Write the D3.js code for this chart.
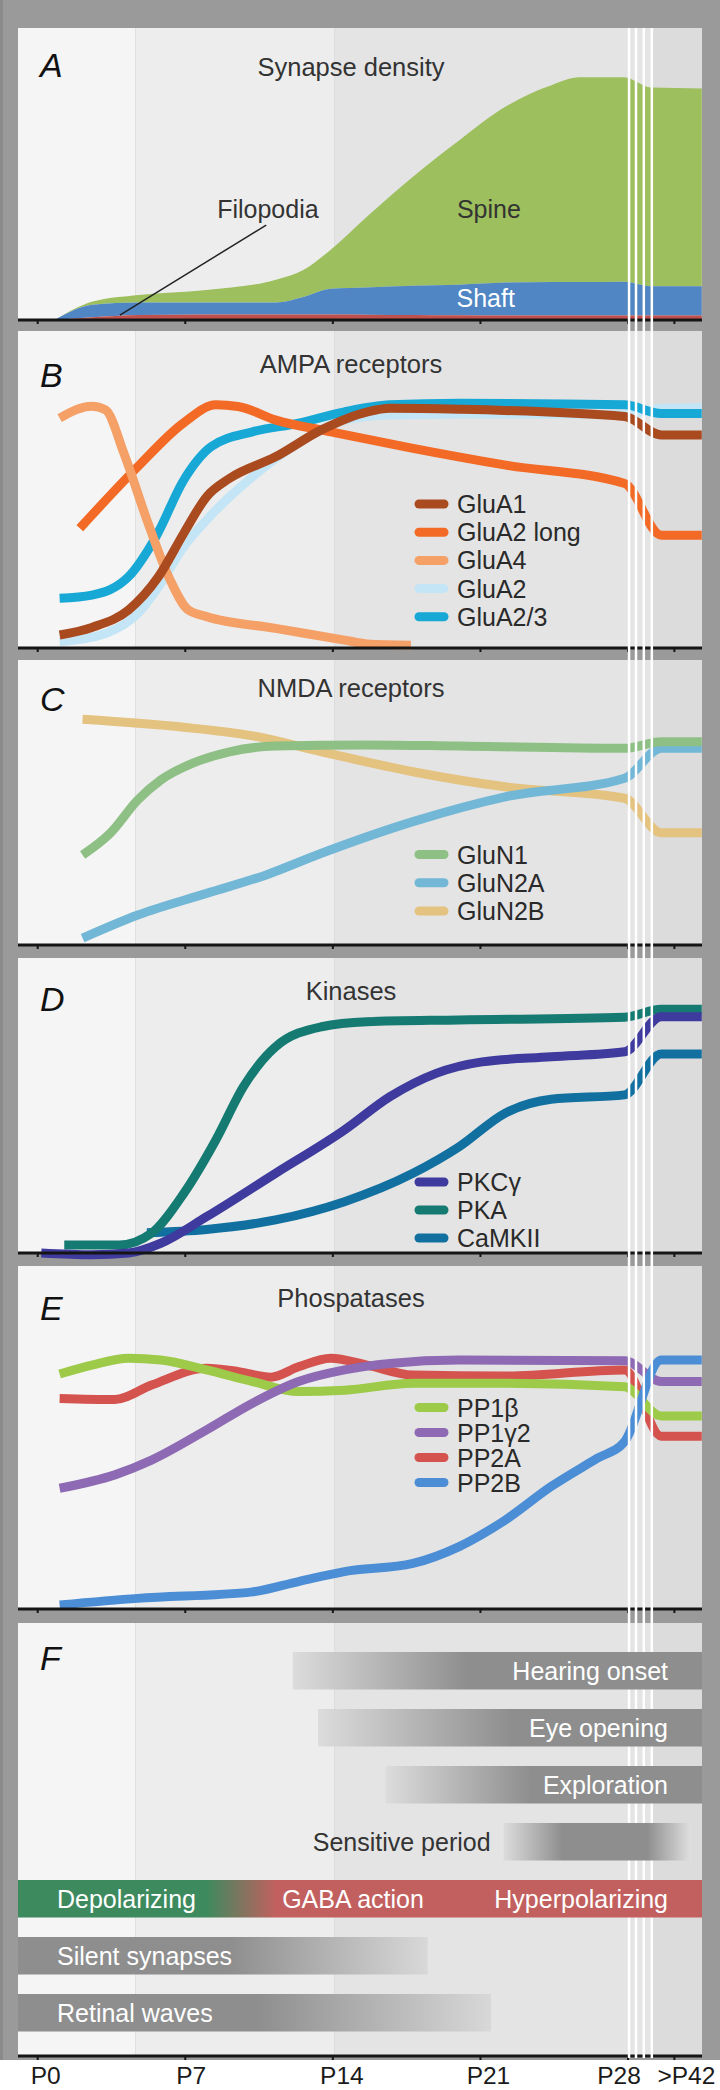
<!DOCTYPE html>
<html>
<head>
<meta charset="utf-8">
<script src="https://cdn.jsdelivr.net/npm/d3@7"></script>
<style>
  body { margin: 0; background: #fff; }
  svg text { font-family: "Liberation Sans", Arial, sans-serif; }
</style>
</head>
<body>
<div id="chart"></div>
<script>
// ---- data: x in postnatal days; >P42 sits at a virtual day ~30.2 after the axis break
const tickDays = [0, 7, 14, 21, 28, 30.2];
const tickLabels = ["P0", "P7", "P14", "P21", "P28", ">P42"];
const tickLabelShift = [8, 6, 9, 8, -9, 12];   // px, labels sit a little off their ticks

// A: synapse density, thickness of each stacked layer (0-100 = panel height)
const densityDays = [0.8, 2.6, 4.8, 8, 11.3, 12.6, 13.9, 15.6, 17.8, 20, 22.2, 24.4, 25.7, 27.8, 29.1, 31.5];
const filopodia = [0, 0.9, 1.7, 1.9, 1.9, 1.9, 1.9, 1.8, 1.7, 1.6, 1.5, 1.5, 1.5, 1.5, 1.5, 1.5];
const shaft = [0, 4.3, 4.3, 4.1, 4.1, 6.0, 8.8, 9.3, 10.0, 10.5, 11.3, 11.5, 11.5, 11.6, 10.1, 10.1];
const spine = [0, 1.1, 2.6, 4.3, 7.8, 9.2, 13.4, 24.2, 37.4, 49.5, 60.3, 67.5, 70.1, 70.0, 68.0, 67.7];

// B: AMPA receptors
const gluA1Days = [1.04, 2.57, 4.31, 5.73, 6.93, 8.01, 9.1, 11.28, 13.46, 15.64, 16.73, 19.99, 27.84, 29.58, 31.5];
const gluA1 = [4.1, 6.5, 12.0, 22.5, 36.2, 47.7, 53.5, 60.3, 68.8, 74.5, 75.6, 75.3, 73.0, 67.2, 67.2];
const gluA2LongDays = [2.0, 4.75, 6.9, 8.45, 9.5, 11.3, 13.9, 17.8, 22.2, 27.84, 29.58, 31.5];
const gluA2Long = [37.8, 57.2, 70.9, 76.7, 76.2, 71.9, 68.2, 63, 57.7, 51.9, 35.6, 35.6];
const gluA4Days = [1.04, 2.57, 3.22, 4.09, 5.18, 6.28, 7.14, 8.01, 11.28, 14.55, 15.62, 17.7];
const gluA4 = [72.5, 76.3, 75.1, 61.4, 40.4, 21.5, 12, 9.9, 6.2, 2.5, 1.3, 0.9];
const gluA2Days = [1.04, 3.22, 4.75, 5.84, 6.93, 8.01, 10.19, 12.37, 14.55, 16.71, 19.99, 27.84, 29.58, 31.5];
const gluA2 = [2, 4.6, 10.9, 20.4, 32, 40.4, 54, 64.6, 71.9, 73.5, 73.7, 73.7, 75.6, 75.9];
const gluA23Days = [1.04, 2.57, 4.31, 5.61, 6.93, 8.23, 10.19, 12.37, 14.55, 16.71, 19.99, 27.84, 29.58, 31.5];
const gluA23 = [15.7, 16.7, 22.5, 35.1, 53, 63.5, 68.2, 70.9, 74.5, 76.7, 77.2, 76.7, 74, 74];

// C: NMDA receptors
const gluN1Days = [2.13, 3.44, 4.75, 5.84, 7.36, 9.1, 11.28, 15.62, 19.99, 27.84, 29.58, 31.5];
const gluN1 = [31.6, 39.2, 50.9, 57.9, 63.8, 67.8, 69.8, 70.2, 69.8, 69, 71.3, 71.3];
const gluN2ADays = [2.13, 4.75, 8.01, 10.84, 13.46, 17.8, 22.17, 27.84, 29.58, 31.5];
const gluN2A = [2.4, 10.5, 18.1, 24.6, 32.2, 43.3, 52, 58.5, 69, 69];
const gluN2BDays = [2.13, 6.93, 10.41, 13.46, 17.8, 22.17, 27.84, 29.58, 31.5];
const gluN2B = [79.2, 76.4, 73.1, 67.8, 60.8, 55.5, 51.5, 39.4, 39.4];

// D: kinases
const pkcDays = [0.17, 2.57, 4.31, 5.84, 8.01, 11.28, 14.55, 16.71, 18.9, 21.08, 24.35, 27.84, 29.58, 31.5];
const pkc = [0, -0.6, 0, 3.3, 12.3, 27, 41.7, 53, 60.9, 64.8, 66.5, 68.2, 80.1, 80.1];
const pkaDays = [1.26, 3.88, 5.4, 6.93, 8.45, 9.76, 11.28, 13.46, 15.62, 19.99, 27.84, 29.58, 31.5];
const pka = [2.7, 2.7, 6.7, 20.2, 38.3, 56.4, 69.9, 76.7, 78.4, 79, 79.9, 82.6, 82.6];
const camkDays = [5.18, 8.01, 11.28, 14.55, 17.8, 19.99, 22.17, 24.35, 27.84, 29.58, 31.5];
const camk = [6.9, 8, 11.2, 17.4, 27, 36, 47.4, 52.1, 53.6, 67.5, 67.5];

// E: phosphatases
const pp1bDays = [1.04, 2.57, 4.31, 5.84, 8.01, 10.19, 12.37, 14.55, 17.8, 22.17, 27.84, 29.58, 31.5];
const pp1b = [68.5, 71.1, 73.1, 72.6, 69.7, 66.3, 63.4, 63.8, 65.8, 65.8, 64.8, 56.3, 56.3];
const pp1g2Days = [1.04, 3.66, 5.4, 8.01, 10.19, 12.37, 14.55, 16.71, 19.99, 27.84, 29.58, 31.5];
const pp1g2 = [35.2, 39.1, 43.4, 52.2, 60, 66.3, 69.7, 71.6, 72.6, 72.4, 66.3, 66.3];
const pp2aDays = [1.04, 3.66, 5.4, 8.01, 9.54, 11.06, 12.37, 13.9, 15.62, 17.8, 22.17, 27.84, 29.58, 31.5];
const pp2a = [61.4, 61.1, 65.3, 70.2, 69.2, 67.6, 70.6, 73.1, 71.1, 68.2, 67.9, 69.7, 50.4, 50.4];
const pp2bDays = [1.04, 4.75, 10.19, 12.37, 14.55, 17.8, 19.99, 22.17, 24.35, 26.53, 27.84, 29.58, 31.5];
const pp2b = [1.2, 3.1, 5, 8, 10.9, 13.3, 18.2, 25.9, 35.7, 43.9, 48.8, 72.6, 72.6];

// F: developmental events (days)
const onsetLabels = ["Hearing onset", "Eye opening", "Exploration"];
const onsetStart = [12.1, 13.3, 16.5];
const onsetFull = [20.4, 22.5, 23.4];
const sensitiveDays = [22.1, 24.9, 28.9, 31.0];   // fade in, plateau, fade out
const gabaDays = [8.0, 11.3];                     // depolarizing -> hyperpolarizing switch
const gabaLabels = ["Depolarizing", "GABA action", "Hyperpolarizing"];
const fadeLabels = ["Silent synapses", "Retinal waves"];
const fadeStart = [9.1, 10.4];
const fadeEnd = [18.5, 21.5];

// ---- layout
const W = 720, H = 2090;
const left = 18, right = 702;
const svg = d3.select("#chart").append("svg").attr("width", W).attr("height", H);
const defs = svg.append("defs");

const x = d3.scaleLinear().domain([0, 28]).range([37.7, 628]);

const panels = [
  {key: "A", title: "Synapse density", top: 28, axis: 320, titleY: 76, letterY: 77},
  {key: "B", title: "AMPA receptors", top: 331, axis: 648, titleY: 373, letterY: 387},
  {key: "C", title: "NMDA receptors", top: 660, axis: 945, titleY: 697, letterY: 711},
  {key: "D", title: "Kinases", top: 958, axis: 1253, titleY: 1000, letterY: 1011},
  {key: "E", title: "Phospatases", top: 1266, axis: 1609, titleY: 1307, letterY: 1320},
  {key: "F", title: "", top: 1623, axis: 2056, titleY: 0, letterY: 1670}
];
panels.forEach(p => p.y = d3.scaleLinear().domain([0, 100]).range([p.axis, p.top]));
const P = Object.fromEntries(panels.map(p => [p.key, p]));

// outer frame
svg.append("rect").attr("width", W).attr("height", 2060).attr("fill", "#9a9a9a");
svg.append("rect").attr("width", 3).attr("height", 2060).attr("fill", "#8a8a8a");

// background bands
const bandEdges = [left, x(4.65), x(14.06), x(29.15), right];
const bandColors = ["#f5f5f5", "#ededed", "#e4e4e4", "#dcdcdc"];
panels.forEach(p => {
  bandColors.forEach((c, i) => {
    svg.append("rect")
      .attr("x", bandEdges[i]).attr("y", p.top)
      .attr("width", bandEdges[i + 1] - bandEdges[i]).attr("height", p.axis - p.top)
      .attr("fill", c);
  });
});

// ---- A: stacked areas
const rowsA = densityDays.map((d, i) => ({day: d, filopodia: filopodia[i], shaft: shaft[i], spine: spine[i]}));
const stackA = d3.stack().keys(["filopodia", "shaft", "spine"])(rowsA);
const areaColors = {filopodia: "#c0504d", shaft: "#4f86c3", spine: "#9dbf5d"};
const area = d3.area()
  .x(d => x(d.data.day))
  .y0(d => P.A.y(d[0]))
  .y1(d => P.A.y(d[1]))
  .curve(d3.curveMonotoneX);
svg.append("g").selectAll("path")
  .data(stackA.slice().reverse())
  .join("path")
    .attr("d", area)
    .attr("fill", d => areaColors[d.key]);

svg.append("line")
  .attr("x1", x(10.84)).attr("y1", P.A.y(32.5))
  .attr("x2", x(3.9)).attr("y2", P.A.y(1.7))
  .attr("stroke", "#222").attr("stroke-width", 1.5);
svg.append("text").attr("x", x(10.92)).attr("y", P.A.y(34.9))
  .attr("text-anchor", "middle").attr("font-size", 25).attr("fill", "#333").text("Filopodia");
svg.append("text").attr("x", x(21.4)).attr("y", P.A.y(34.9))
  .attr("text-anchor", "middle").attr("font-size", 25).attr("fill", "#333").text("Spine");
svg.append("text").attr("x", x(21.25)).attr("y", P.A.y(4.45))
  .attr("text-anchor", "middle").attr("font-size", 25).attr("fill", "#fff").text("Shaft");

// ---- B-E: line panels
const lineSets = {
  B: {
    draw: [["GluA2", gluA2Days, gluA2], ["GluA2/3", gluA23Days, gluA23], ["GluA2 long", gluA2LongDays, gluA2Long],
           ["GluA4", gluA4Days, gluA4], ["GluA1", gluA1Days, gluA1]],
    legend: ["GluA1", "GluA2 long", "GluA4", "GluA2", "GluA2/3"], legendY: 504, step: 28.2
  },
  C: {
    draw: [["GluN2B", gluN2BDays, gluN2B], ["GluN2A", gluN2ADays, gluN2A], ["GluN1", gluN1Days, gluN1]],
    legend: ["GluN1", "GluN2A", "GluN2B"], legendY: 854.5, step: 28.3
  },
  D: {
    draw: [["CaMKII", camkDays, camk], ["PKA", pkaDays, pka], ["PKCγ", pkcDays, pkc]],
    legend: ["PKCγ", "PKA", "CaMKII"], legendY: 1182, step: 28
  },
  E: {
    draw: [["PP2A", pp2aDays, pp2a], ["PP1β", pp1bDays, pp1b], ["PP1γ2", pp1g2Days, pp1g2], ["PP2B", pp2bDays, pp2b]],
    legend: ["PP1β", "PP1γ2", "PP2A", "PP2B"], legendY: 1407.5, step: 25
  }
};
const colors = {
  "GluA1": "#a94a1f", "GluA2 long": "#f26a25", "GluA4": "#f4a067", "GluA2": "#c4e5f5", "GluA2/3": "#17a8d6",
  "GluN1": "#8ec085", "GluN2A": "#72b7d6", "GluN2B": "#e4c27f",
  "PKCγ": "#3e3a9e", "PKA": "#157b72", "CaMKII": "#1170a0",
  "PP1β": "#9dca48", "PP1γ2": "#8d6ab3", "PP2A": "#d5534f", "PP2B": "#4c8ed6"
};

Object.entries(lineSets).forEach(([key, set]) => {
  const p = P[key];
  const line = d3.line().x(d => x(d[0])).y(d => p.y(d[1])).curve(d3.curveMonotoneX);
  const g = svg.append("g");
  set.draw.forEach(([name, days, vals]) => {
    g.append("path")
      .datum(days.map((d, i) => [d, vals[i]]))
      .attr("d", line)
      .attr("fill", "none")
      .attr("stroke", colors[name])
      .attr("stroke-width", 9)
      .attr("stroke-linejoin", "round");
  });
  set.legend.forEach((name, i) => {
    const cy = set.legendY + i * set.step;
    g.append("line").attr("x1", 419).attr("x2", 444).attr("y1", cy).attr("y2", cy)
      .attr("stroke", colors[name]).attr("stroke-width", 9).attr("stroke-linecap", "round");
    g.append("text").attr("x", 457).attr("y", cy + 9)
      .attr("font-size", 25).attr("fill", "#2a2a2a").text(name);
  });
});

// ---- axes
panels.forEach(p => {
  svg.append("line").attr("x1", left).attr("x2", right).attr("y1", p.axis).attr("y2", p.axis)
    .attr("stroke", "#151515").attr("stroke-width", 3);
  svg.append("g").selectAll("line")
    .data(tickDays)
    .join("line")
      .attr("x1", d => x(d)).attr("x2", d => x(d))
      .attr("y1", p.axis).attr("y2", p.axis + 4)
      .attr("stroke", "#151515").attr("stroke-width", 2);
});

// axis break: white lines through panels A-F
const breakDays = [28.05, 28.38, 28.75, 29.13];
svg.append("g").selectAll("line")
  .data(breakDays)
  .join("line")
    .attr("x1", d => x(d)).attr("x2", d => x(d))
    .attr("y1", 28).attr("y2", 2058)
    .attr("stroke", "#fff").attr("stroke-width", 2.5);

// ---- F: timeline bars
const rowTop = k => 1652 + 57 * k, rowH = 37.5;
function gradient(id, stops) {
  const g = defs.append("linearGradient").attr("id", id)
    .attr("gradientUnits", "userSpaceOnUse")
    .attr("x1", left).attr("x2", right).attr("y1", 0).attr("y2", 0);
  stops.forEach(([px, c]) => g.append("stop")
    .attr("offset", Math.max(0, Math.min(1, (px - left) / (right - left))))
    .attr("stop-color", c));
}
const darkGray = "#8e8e8e", lightGray = "#dcdcdc";

onsetLabels.forEach((label, k) => {
  gradient("onset" + k, [[x(onsetStart[k]), lightGray], [x(onsetFull[k]), darkGray]]);
  svg.append("rect").attr("x", x(onsetStart[k])).attr("y", rowTop(k))
    .attr("width", right - x(onsetStart[k])).attr("height", rowH)
    .attr("fill", `url(#onset${k})`);
  svg.append("text").attr("x", right - 34).attr("y", rowTop(k) + rowH / 2 + 9)
    .attr("text-anchor", "end").attr("font-size", 25).attr("fill", "#fff").text(label);
});

gradient("sens", [[x(sensitiveDays[0]), lightGray], [x(sensitiveDays[1]), darkGray],
                  [x(sensitiveDays[2]), darkGray], [x(sensitiveDays[3]), "#e0e0e0"]]);
svg.append("rect").attr("x", x(sensitiveDays[0])).attr("y", rowTop(3))
  .attr("width", x(sensitiveDays[3]) - x(sensitiveDays[0])).attr("height", rowH)
  .attr("fill", "url(#sens)");
svg.append("text").attr("x", x(sensitiveDays[0]) - 13).attr("y", rowTop(3) + rowH / 2 + 9)
  .attr("text-anchor", "end").attr("font-size", 25).attr("fill", "#333").text("Sensitive period");

gradient("gaba", [[x(gabaDays[0]), "#3d8a5e"], [x(gabaDays[1]), "#c2605f"]]);
svg.append("rect").attr("x", left).attr("y", rowTop(4))
  .attr("width", right - left).attr("height", rowH).attr("fill", "url(#gaba)");
const gabaY = rowTop(4) + rowH / 2 + 9;
svg.append("text").attr("x", 57).attr("y", gabaY).attr("font-size", 25).attr("fill", "#fff").text(gabaLabels[0]);
svg.append("text").attr("x", 353).attr("y", gabaY).attr("text-anchor", "middle")
  .attr("font-size", 25).attr("fill", "#fff").text(gabaLabels[1]);
svg.append("text").attr("x", right - 34).attr("y", gabaY).attr("text-anchor", "end")
  .attr("font-size", 25).attr("fill", "#fff").text(gabaLabels[2]);

fadeLabels.forEach((label, k) => {
  gradient("fade" + k, [[x(fadeStart[k]), darkGray], [x(fadeEnd[k]), "#d8d8d8"]]);
  svg.append("rect").attr("x", left).attr("y", rowTop(5 + k))
    .attr("width", x(fadeEnd[k]) - left).attr("height", rowH)
    .attr("fill", `url(#fade${k})`);
  svg.append("text").attr("x", 57).attr("y", rowTop(5 + k) + rowH / 2 + 9)
    .attr("font-size", 25).attr("fill", "#fff").text(label);
});

// ---- titles and panel letters
panels.forEach(p => {
  if (p.title) {
    svg.append("text").attr("x", 351).attr("y", p.titleY).attr("text-anchor", "middle")
      .attr("font-size", 25.5).attr("fill", "#333").text(p.title);
  }
  svg.append("text").attr("x", 40).attr("y", p.letterY)
    .attr("font-size", 34).attr("font-style", "italic").attr("fill", "#111").text(p.key);
});

// ---- tick labels
svg.append("g").selectAll("text")
  .data(tickDays)
  .join("text")
    .attr("x", (d, i) => x(d) + tickLabelShift[i]).attr("y", 2084)
    .attr("text-anchor", "middle").attr("font-size", 24.5).attr("fill", "#1a1a1a")
    .text((d, i) => tickLabels[i]);
</script>
</body>
</html>
